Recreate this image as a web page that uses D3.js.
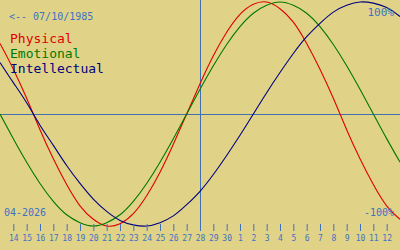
<!DOCTYPE html>
<html>
<head>
<meta charset="utf-8">
<script src="https://cdn.jsdelivr.net/npm/d3@7"></script>
<style>
  html, body { margin: 0; padding: 0; background: #e0d387; }
  svg { display: block; }
  text { font-family: "DejaVu Sans Mono", monospace; }
</style>
</head>
<body>
<div id="chart"></div>
<script>
// Days shown along the bottom (index 0..30, today = index 15)
const days = [13, 14, 15, 16, 17, 18, 19, 20, 21, 22, 23, 24, 25, 26, 27, 28,
              29, 30, 1, 2, 3, 4, 5, 6, 7, 8, 9, 10, 11, 12, 13];
const todayIndex = 15;

// Cycle values (-1 .. 1)
const physical = [0.63, 0.40, 0.14, -0.14, -0.40, -0.63, -0.82, -0.94, -1.00, -0.98,
                  -0.89, -0.73, -0.52, -0.27, 0.00, 0.27, 0.52, 0.73, 0.89, 0.98,
                  1.00, 0.94, 0.82, 0.63, 0.40, 0.14, -0.14, -0.40, -0.63, -0.82, -0.94];
const emotional = [0.00, -0.22, -0.43, -0.62, -0.78, -0.90, -0.97, -1.00, -0.97, -0.90,
                   -0.78, -0.62, -0.43, -0.22, 0.00, 0.22, 0.43, 0.62, 0.78, 0.90,
                   0.97, 1.00, 0.97, 0.90, 0.78, 0.62, 0.43, 0.22, 0.00, -0.22, -0.43];
const intellectual = [0.46, 0.28, 0.10, -0.10, -0.28, -0.46, -0.62, -0.76, -0.87, -0.95,
                      -0.99, -1.00, -0.97, -0.91, -0.81, -0.69, -0.54, -0.37, -0.19, 0.00,
                      0.19, 0.37, 0.54, 0.69, 0.81, 0.91, 0.97, 1.00, 0.99, 0.95, 0.87];

const seriesNames = ["Physical", "Emotional", "Intellectual"];
const seriesColors = ["#e00000", "#007800", "#000080"];
const birthLabel = "<-- 07/10/1985";
const monthLabel = "04-2026";

const width = 400;
const height = 250;

const svg = d3.select("#chart")
    .append("svg")
    .attr("width", width)
    .attr("height", height);

svg.append("rect")
    .attr("width", width)
    .attr("height", height)
    .attr("fill", "#e0d387");

const x = d3.scaleLinear().domain([0, days.length - 1]).range([0, width]);
const y = d3.scaleLinear().domain([-1, 1]).range([226, 2]);

// Zero line and today line
svg.append("line")
    .attr("x1", 0).attr("x2", width)
    .attr("y1", Math.round(y(0)) + 0.5).attr("y2", Math.round(y(0)) + 0.5)
    .attr("stroke", "#4070b0");
svg.append("line")
    .attr("x1", Math.round(x(todayIndex)) + 0.5).attr("x2", Math.round(x(todayIndex)) + 0.5)
    .attr("y1", 0).attr("y2", 231)
    .attr("stroke", "#4070b0");

// Curves
const line = d3.line()
    .x((d, i) => x(i))
    .y(d => y(d))
    .curve(d3.curveNatural);

[physical, emotional, intellectual].forEach((s, k) => {
    svg.append("path")
        .attr("d", line(s))
        .attr("fill", "none")
        .attr("stroke", seriesColors[k])
        .attr("stroke-width", 1.1);
});

// Day axis
const axis = d3.axisBottom(x)
    .tickValues(d3.range(1, days.length - 1))
    .tickFormat(i => days[i])
    .tickSize(7)
    .tickPadding(4);

const ax = svg.append("g")
    .attr("transform", "translate(0,224)")
    .call(axis);
ax.select(".domain").remove();
ax.selectAll("line").attr("stroke", "#4070c0");
ax.selectAll("text")
    .attr("fill", "#3d72c4")
    .attr("font-size", 8)
    .attr("font-family", "DejaVu Sans Mono");

// Labels
svg.append("text")
    .attr("x", 9).attr("y", 20)
    .attr("font-size", 10)
    .attr("fill", "#3d72c4")
    .text(birthLabel);

svg.selectAll(".legend")
    .data(seriesNames)
    .enter()
    .append("text")
    .attr("class", "legend")
    .attr("x", 10)
    .attr("y", (d, i) => 43 + i * 15)
    .attr("font-size", 13)
    .attr("fill", (d, i) => seriesColors[i])
    .text(d => d);

svg.append("text")
    .attr("x", 394).attr("y", 16)
    .attr("text-anchor", "end")
    .attr("font-size", 11)
    .attr("fill", "#3d72c4")
    .text("100%");

svg.append("text")
    .attr("x", 394).attr("y", 216)
    .attr("text-anchor", "end")
    .attr("font-size", 10)
    .attr("fill", "#3d72c4")
    .text("-100%");

svg.append("text")
    .attr("x", 4).attr("y", 216)
    .attr("font-size", 10)
    .attr("fill", "#3d72c4")
    .text(monthLabel);
</script>
</body>
</html>
